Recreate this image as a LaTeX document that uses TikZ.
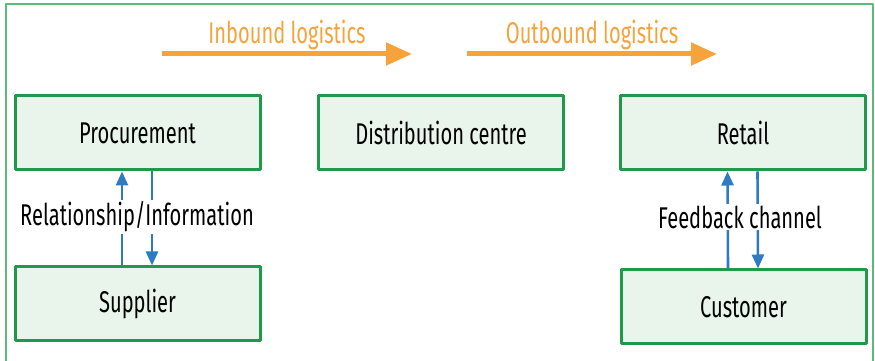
\documentclass[tikz,border=0pt]{standalone}
\usepackage{fontspec}
\setmainfont[FakeStretch=0.67]{Fira Sans}
\usetikzlibrary{arrows.meta}
\definecolor{boxgreen}{HTML}{1E9A4A}
\definecolor{boxfill}{HTML}{E9F4EA}
\definecolor{framegreen}{HTML}{5DBB7A}
\definecolor{flowblue}{HTML}{2E7BC4}
\definecolor{logorange}{HTML}{F5A33A}
\begin{document}
\begin{tikzpicture}[x=1pt,y=1pt,line join=round,font=\fontsize{30}{34}\selectfont,
	stage/.style={draw=boxgreen,line width=3pt,fill=boxfill,minimum width=245pt,minimum height=74pt,inner sep=0pt},
	flow/.style={draw=logorange,line width=5pt,-{Triangle[length=26pt,width=22pt]}},
	link/.style={draw=flowblue,line width=2.6pt,-{Triangle[length=14pt,width=12pt]}},
	tag/.style={fill=white,inner xsep=2pt,inner ysep=2pt}]
		\useasboundingbox (0,0) rectangle (875,361);
		\draw[framegreen,line width=1.2pt] (6,-10) rectangle (873,357);
		% the five stages
		\node[stage] (proc) at (137.5,228) {Procurement};
		\node[stage] (dist) at (441,228) {Distribution centre};
		\node[stage] (ret) at (743,228) {Retail};
		\node[stage] (sup) at (137.5,57) {Supplier};
		\node[stage] (cust) at (743.5,54) {Customer};
		% logistics arrows
		\coordinate (inA) at (162,307);
		\coordinate (inB) at (412,307);
		\coordinate (outA) at (467,307);
		\coordinate (outB) at (717,307);
		\draw[flow] (inA)--(inB) node[midway,above=-2pt,text=logorange] {Inbound logistics};
		\draw[flow] (outA)--(outB) node[midway,above=-2pt,text=logorange] {Outbound logistics};
		% two way links
		\draw[link] ([xshift=-15.5pt]sup.north)--([xshift=-15.5pt]proc.south);
		\draw[link] ([xshift=14.5pt]proc.south)--([xshift=14.5pt]sup.north);
		\node[tag] (rel) at (137,144) {Relationship/Information};
		\draw[link] ([xshift=-15.5pt]cust.north)--([xshift=-15.5pt]ret.south);
		\draw[link] ([xshift=14.5pt]ret.south)--([xshift=14.5pt]cust.north);
		\node[tag] (fb) at (740,144) {Feedback channel};
\end{tikzpicture}
\end{document}
